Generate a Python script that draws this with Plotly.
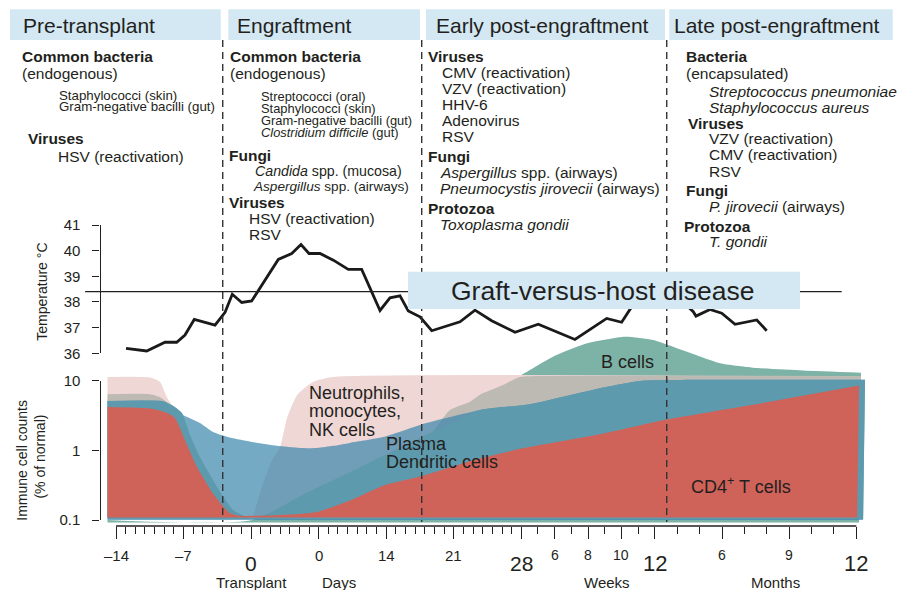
import plotly.graph_objects as go

W, H = 901, 590
FONT = "Liberation Sans, Arial, Helvetica, sans-serif"
INK = "#231f20"
PANEL = "#d3e8f3"

# ---- timeline scale: one unit per day, then compressed weeks and months ----
WEEK_W = 1.73
MONTH_W = 2.32


def week_pos(w):
    return 28 + (w - 4) * WEEK_W


def month_pos(m):
    return week_pos(12) + (m - 3) * MONTH_W


# ---- data ----
phase_names = ["Pre-transplant", "Engraftment", "Early post-engraftment", "Late post-engraftment"]
phase_bounds = [-2.94, 17.68, 43.07]

# body temperature (timeline position, degrees C)
temp_t = [-12.96, -10.82, -8.92, -7.71, -6.85, -5.89, -3.74, -2.70, -1.95, -0.97,
          0.06, 0.92, 2.82, 4.21, 5.17, 6.00, 7.14, 8.52, 10.07, 11.46,
          13.36, 14.39, 15.43, 16.29, 17.50, 18.72, 21.65, 23.20, 24.93, 27.35,
          29.76, 33.56, 36.85, 38.40, 39.26, 41.34, 43.93, 45.82, 46.10, 47.55,
          48.77, 50.15, 52.40, 53.43]
temp_c = [36.19, 36.09, 36.43, 36.43, 36.71, 37.32, 37.10, 37.60, 38.30, 37.98,
          38.04, 38.53, 39.66, 39.89, 40.24, 39.89, 39.89, 39.63, 39.27, 39.27,
          37.67, 38.16, 38.24, 37.65, 37.42, 36.88, 37.23, 37.68, 37.27, 36.82,
          37.13, 36.54, 37.36, 37.21, 37.71, 38.60, 38.30, 37.62, 37.45, 37.71,
          37.56, 37.13, 37.30, 36.88]
fever_c = 38.4
fever_span = [-17.2, 61.2]

# immune cell counts, % of normal (timeline position, value)
bcell_t = [-14.88, 0.09, 10.25, 17.50, 22.68, 27.87, 31.29, 34.81, 38.75, 41.65, 45.17, 48.59, 52.01, 57.19, 63.20]
bcell_v = [0.1, 0.1, 0.5, 1.5, 5.0, 11.8, 22.1, 34.4, 42.8, 38.4, 26.0, 17.8, 15.4, 14.0, 13.0]

neutro_t = [-14.88, -10.48, -9.44, -8.72, -7.68, -7.16, -6.33, -5.30, -3.53, -1.88, -0.42,
            0.09, 0.72, 1.44, 2.17, 3.00, 3.72, 4.76, 6.41, 8.49, 62.79]
neutro_v = [11.3, 11.1, 9.6, 5.8, 3.4, 2.5, 1.0, 0.45, 0.18, 0.115, 0.108,
            0.108, 0.2, 0.4, 0.73, 1.11, 2.9, 6.2, 9.6, 11.3, 11.4]

plasma_t = [-14.88, -10.48, -9.44, -8.40, -7.37, -6.33, -5.30, -3.53, -1.88, -0.42, 0.40,
            5.07, 10.25, 15.43, 18.54, 20.61, 22.68, 23.72, 25.79, 27.87, 29.94, 63.20]
plasma_v = [6.4, 6.4, 5.8, 4.5, 2.6, 1.0, 0.5, 0.2, 0.115, 0.108, 0.108,
            0.18, 0.42, 1.0, 1.7, 3.8, 5.0, 6.3, 8.3, 11.3, 11.7, 11.7]

dendritic_t = [-14.88, -8.92, -7.68, -5.30, -3.95, -2.19, 0.09, 2.68, 5.07, 6.83, 8.49,
               10.25, 13.67, 17.50, 20.61, 23.72, 28.90, 36.16, 40.30, 46.52, 63.62]
dendritic_v = [5.1, 5.0, 3.55, 2.47, 1.84, 1.53, 1.32, 1.16, 1.08, 1.08, 1.16,
               1.28, 1.55, 2.32, 3.0, 3.8, 4.6, 7.8, 9.9, 10.3, 10.3]

cd8_t = [-14.88, -8.92, -7.89, -7.16, -6.33, -5.30, -3.53, -1.88, -0.42, 0.40, 1.13,
         5.07, 10.25, 15.43, 20.61, 23.72, 28.90, 36.16, 40.30, 46.52, 63.62]
cd8_v = [5.1, 4.95, 4.2, 3.44, 1.66, 0.8, 0.3, 0.14, 0.11, 0.106, 0.11,
         0.22, 0.49, 1.1, 2.4, 3.8, 4.6, 7.8, 9.9, 10.3, 10.3]

cd4_t = [-14.88, -10.48, -8.92, -7.89, -6.85, -5.61, -3.95, -2.19, -1.15, 0.92, 5.07,
         6.83, 10.25, 13.67, 17.50, 22.68, 27.87, 36.16, 42.68, 52.74, 63.00]
cd4_v = [4.2, 4.0, 3.55, 2.92, 1.4, 0.58, 0.24, 0.125, 0.115, 0.115, 0.122,
         0.13, 0.19, 0.31, 0.42, 0.7, 1.05, 1.7, 2.7, 4.7, 8.5]

# timeline ticks
day_ticks = [-14, -7, 0, 7, 14, 21, 28]
day_labels = ["\u201314", "\u20137", "0", "0", "14", "21", "28"]
week_ticks = [6, 8, 10, 12]
month_ticks = [6, 9, 12]

# ---- layout helpers (pixel -> paper) ----
def px(x):
    return x / W


def py(y):
    return 1 - y / H


PX_PER_UNIT = 9.65
X0 = -14 - 116 / PX_PER_UNIT
X1 = X0 + W / PX_PER_UNIT

DEC_PX = (520 - 380.7) / 2
AREA_TOP, AREA_BOT = 322, 532
area_range = [-1 - (AREA_BOT - 520) / DEC_PX, 1 + (380.7 - AREA_TOP) / DEC_PX]

fig = go.Figure()

# ---- immune cell areas (back to front) ----
layers = [
    (bcell_t, bcell_v, 0.092, "#7db2a7"),
    (neutro_t, neutro_v, 0.106, "#efd7d5"),
    (plasma_t, plasma_v, 0.106, "#bdbab4"),
    (dendritic_t, dendritic_v, 0.1, "rgba(58,134,172,0.7)"),
    (cd8_t, cd8_v, 0.103, "#5e9aae"),
    (cd4_t, cd4_v, 0.109, "#d06359"),
]
for xs, vs, base, color in layers:
    fig.add_trace(go.Scatter(x=[xs[0], xs[-1] - 0.2], y=[base, base], xaxis="x", yaxis="y3",
                             mode="lines", line=dict(width=0), hoverinfo="skip", showlegend=False))
    fig.add_trace(go.Scatter(x=xs, y=vs, xaxis="x", yaxis="y3", mode="lines", fill="tonexty",
                             fillcolor=color, line=dict(width=0, shape="spline", smoothing=0.55),
                             hoverinfo="skip", showlegend=False))

# placeholder so the immune-count axis is drawn
fig.add_trace(go.Scatter(x=[X0], y=[1], xaxis="x", yaxis="y2", mode="markers",
                         marker=dict(opacity=0), hoverinfo="skip", showlegend=False))

# ---- temperature ----
fig.add_trace(go.Scatter(x=temp_t, y=temp_c, xaxis="x", yaxis="y", mode="lines",
                         line=dict(color="#1a1a1a", width=2.8), hoverinfo="skip", showlegend=False))

# ---- shapes ----
shapes = []
for b in phase_bounds:
    shapes.append(dict(type="line", xref="x", yref="paper", x0=b, x1=b, y0=py(40), y1=py(522),
                       line=dict(color="#333333", width=1.4, dash="7px,5px"), layer="above"))
shapes.append(dict(type="line", xref="x", yref="y", x0=fever_span[0], x1=fever_span[1],
                   y0=fever_c, y1=fever_c, line=dict(color=INK, width=1.2), layer="above"))
shapes.append(dict(type="rect", xref="paper", yref="paper", x0=px(408), x1=px(800),
                   y0=py(309), y1=py(271.7), fillcolor=PANEL, line=dict(width=0), layer="above"))
for x0, x1 in [(10, 220.7), (228.3, 420), (426, 665), (669.3, 892.7)]:
    shapes.append(dict(type="rect", xref="paper", yref="paper", x0=px(x0), x1=px(x1),
                       y0=py(40), y1=py(9.3), fillcolor=PANEL, line=dict(width=0), layer="above"))
# timeline baseline
shapes.append(dict(type="line", xref="x", yref="paper", x0=-14, x1=month_pos(12),
                   y0=py(526), y1=py(526), line=dict(color=INK, width=1.3), layer="above"))

annotations = []


def label(text, x, y, size, anchor="left", **kw):
    annotations.append(dict(text=text, x=px(x), y=py(y), xref="paper", yref="paper",
                            xanchor=anchor, yanchor="middle", showarrow=False,
                            borderpad=0, font=dict(family=FONT, size=size, color=INK), **kw))


# phase headers
for name, x in zip(phase_names, [21.7, 236, 435, 672.7]):
    label(name, x, 25, 21)

B, R, S = 15.5, 15.5, 13.3
S2 = 12.9
# pre-transplant
label("<b>Common bacteria</b>", 20.7, 56.5, B)
label("(endogenous)", 20.7, 73, R)
label("Staphylococci (skin)", 57.7, 95, S)
label("Gram-negative bacilli (gut)", 57.7, 106, S)
label("<b>Viruses</b>", 26.7, 138.5, B)
label("HSV (reactivation)", 56.7, 156, R)
# engraftment
label("<b>Common bacteria</b>", 229.3, 56.5, B)
label("(endogenous)", 229.3, 73, R)
label("Streptococci (oral)", 260, 96, S2)
label("Staphylococci (skin)", 260, 108, S2)
label("Gram-negative bacilli (gut)", 260, 120, S2)
label("<i>Clostridium difficile</i> (gut)", 260, 132.5, S2)
label("<b>Fungi</b>", 227.7, 155.5, B)
label("<i>Candida</i> spp. (mucosa)", 254, 171, 14.2)
label("<i>Aspergillus</i> spp. (airways)", 251.7, 186.5, 13.6)
label("<b>Viruses</b>", 228, 202.5, B)
label("HSV (reactivation)", 248.3, 218.5, R)
label("RSV", 248.3, 234.5, R)
# early post-engraftment
label("<b>Viruses</b>", 427.3, 56, B)
label("CMV (reactivation)", 440.7, 72.5, R)
label("VZV (reactivation)", 440.7, 88.5, R)
label("HHV-6", 440.7, 104.5, R)
label("Adenovirus", 440.7, 120, R)
label("RSV", 440.7, 136.5, R)
label("<b>Fungi</b>", 427.3, 156.5, B)
label("<i>Aspergillus</i> spp. (airways)", 439.3, 173, R)
label("<i>Pneumocystis jirovecii</i> (airways)", 439.3, 188.5, R)
label("<b>Protozoa</b>", 427.3, 208.5, B)
label("<i>Toxoplasma gondii</i>", 439.3, 224.5, R)
# late post-engraftment
label("<b>Bacteria</b>", 685, 56, B)
label("(encapsulated)", 685, 73, R)
label("<i>Streptococcus pneumoniae</i>", 708.3, 91, R)
label("<i>Staphylococcus aureus</i>", 708.3, 107.5, R)
label("<b>Viruses</b>", 687.3, 123.5, B)
label("VZV (reactivation)", 708.3, 138.5, R)
label("CMV (reactivation)", 708.3, 155, R)
label("RSV", 708.3, 171, R)
label("<b>Fungi</b>", 685, 190.5, B)
label("<i>P. jirovecii</i> (airways)", 708.3, 206, R)
label("<b>Protozoa</b>", 683.3, 226.5, B)
label("<i>T. gondii</i>", 708.3, 242, R)

# graft-versus-host disease banner
label("Graft-versus-host disease", 450, 291, 26.5)

# cell population labels
label("Neutrophils,", 308.3, 392.5, 18)
label("monocytes,", 308.3, 411, 18)
label("NK cells", 308.3, 429.5, 18)
label("Plasma", 385, 443.5, 18)
label("Dendritic cells", 385, 462, 18)
label("B cells", 600, 362, 18)
label("CD4<sup>+</sup> T cells", 690, 485, 18)

# axis titles
label("Temperature \u00b0C", 42, 291.7, 14, anchor="center", textangle=-90)
label("Immune cell counts", 21.7, 460, 14, anchor="center", textangle=-90)
label("(% of normal)", 40, 456.6, 14, anchor="center", textangle=-90)


def tick_label(text, t, y, size):
    annotations.append(dict(text=text, x=t, y=py(y), xref="x", yref="paper", xanchor="center",
                            yanchor="middle", showarrow=False, borderpad=0,
                            font=dict(family=FONT, size=size, color=INK)))


for t, lab in zip(day_ticks, day_labels):
    big = t in (0, 28)
    tick_label(lab, t, 563 if big else 555.5, 21 if big else 15)
for w in week_ticks:
    big = w == 12
    tick_label(str(w), week_pos(w), 563 if big else 554.5, 22 if big else 14)
for m in month_ticks:
    big = m == 12
    tick_label(str(m), month_pos(m), 563 if big else 554.5, 22 if big else 14)
tick_label("Transplant", 0, 582, 15)
tick_label("Days", 9.1, 582, 15)
tick_label("Weeks", week_pos(9.13), 582, 15)
tick_label("Months", month_pos(8.41), 582, 15)

major_ticks = day_ticks + [week_pos(w) for w in week_ticks] + [month_pos(m) for m in month_ticks]
minor_ticks = ([d for d in range(-13, 28) if d % 7 != 0]
               + [week_pos(w) for w in (5, 7, 9, 11)]
               + [month_pos(m) for m in (4, 5, 7, 8, 10, 11)])

axis_font = dict(family=FONT, size=15, color=INK)
fig.update_layout(
    width=W, height=H, autosize=False,
    margin=dict(l=0, r=0, t=0, b=0, pad=0, autoexpand=False),
    paper_bgcolor="white", plot_bgcolor="rgba(0,0,0,0)",
    showlegend=False, shapes=shapes, annotations=annotations,
    xaxis=dict(domain=[0, 1], range=[X0, X1], anchor="free", position=py(526),
               showgrid=False, zeroline=False, showline=False, showticklabels=False,
               ticks="outside", tickmode="array", tickvals=major_ticks, ticklen=12,
               tickwidth=1.2, tickcolor=INK,
               minor=dict(tickmode="array", tickvals=minor_ticks, ticks="outside",
                          ticklen=7, tickwidth=1.2, tickcolor=INK)),
    yaxis=dict(domain=[py(353.3), py(225)], range=[36, 41], anchor="free", position=px(99.5),
               showgrid=False, zeroline=False, showline=True, linecolor=INK, linewidth=1.3,
               ticks="outside", ticklen=7, tickwidth=1.3, tickcolor=INK,
               tickvals=[36, 37, 38, 39, 40, 41], tickfont=axis_font, ticklabelstandoff=9),
    yaxis2=dict(domain=[py(520), py(380.7)], type="log", range=[-1, 1], anchor="free",
                position=px(99.5), showgrid=False, zeroline=False, showline=True,
                linecolor=INK, linewidth=1.3, ticks="outside", ticklen=7, tickwidth=1.3,
                tickcolor=INK, tickmode="array", tickvals=[0.1, 1, 10],
                ticktext=["0.1", "1", "10"], tickfont=axis_font, ticklabelstandoff=9),
    yaxis3=dict(domain=[py(AREA_BOT), py(AREA_TOP)], type="log", range=area_range,
                anchor="x", visible=False),
)

fig.write_html("out.html")
